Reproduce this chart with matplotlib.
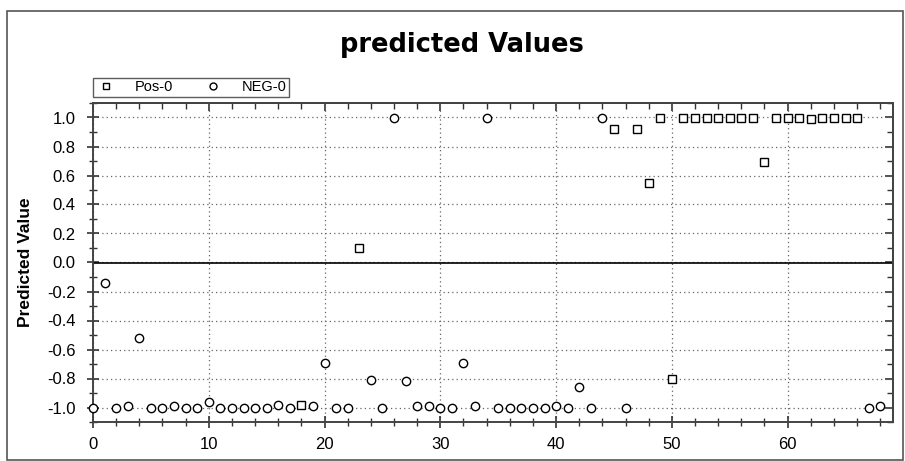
import matplotlib
matplotlib.use('Agg')
import matplotlib.pyplot as plt
import matplotlib.ticker as ticker
from matplotlib.patches import Rectangle

# ─────────────────────────────────────────────
# Data
# ─────────────────────────────────────────────

pos_x = [18, 23, 45, 47, 48, 49, 50, 51, 52, 53, 54, 55, 56, 57, 58,
         59, 60, 61, 62, 63, 64, 65, 66]
pos_y = [-0.98, 0.10, 0.92, 0.92, 0.55, 1.00, -0.80, 1.00, 1.00, 1.00, 1.00, 1.00, 1.00, 1.00, 0.69,
         1.00, 1.00, 1.00, 0.99, 1.00, 1.00, 1.00, 1.00]

neg_x = [0, 1, 2, 3, 4, 5, 6, 7, 8, 9, 10, 11, 12, 13, 14, 15, 16, 17, 19,
         20, 21, 22, 24, 25, 26, 27, 28, 29, 30, 31, 32, 33, 34, 35, 36, 37,
         38, 39, 40, 41, 42, 43, 44, 46, 67, 68]
neg_y = [-1.00, -0.14, -1.00, -0.99, -0.52, -1.00, -1.00, -0.99, -1.00, -1.00,
         -0.96, -1.00, -1.00, -1.00, -1.00, -1.00, -0.98, -1.00, -0.99,
         -0.69, -1.00, -1.00, -0.81, -1.00, 1.00, -0.82, -0.99, -0.99, -1.00,
         -1.00, -0.69, -0.99, 1.00, -1.00, -1.00, -1.00, -1.00, -1.00, -0.99,
         -1.00, -0.86, -1.00, 1.00, -1.00, -1.00, -0.99]

TITLE = 'predicted Values'
YLABEL = 'Predicted Value'

plt.rcParams['font.family'] = ['Liberation Sans', 'DejaVu Sans']

fig = plt.figure(figsize=(9.05, 4.61), dpi=100)
W, H = 905, 461
ax = fig.add_axes([93 / W, 1 - 422 / H, 800 / W, 319 / H])

# outer frame
fig.patches.append(Rectangle((7 / W, 1 / H), 896 / W, 1 - 12 / H,
                             transform=fig.transFigure, fill=False,
                             edgecolor='#555555', linewidth=1.2))

ax.plot(pos_x, pos_y, linestyle='none', marker='s', markersize=6,
        markerfacecolor='white', markeredgecolor='black', markeredgewidth=1.0,
        label='Pos-0', zorder=3, clip_on=False)
ax.plot(neg_x, neg_y, linestyle='none', marker='o', markersize=6,
        markerfacecolor='white', markeredgecolor='black', markeredgewidth=1.0,
        label='NEG-0', zorder=3, clip_on=False)

ax.axhline(0, color='black', linewidth=1.2, zorder=2)

ax.set_xlim(0, 69.1)
ax.set_ylim(-1.1, 1.1)
ax.xaxis.set_major_locator(ticker.MultipleLocator(10))
ax.xaxis.set_minor_locator(ticker.MultipleLocator(2))
ax.yaxis.set_major_locator(ticker.MultipleLocator(0.2))
ax.yaxis.set_minor_locator(ticker.MultipleLocator(0.1))
ax.yaxis.set_major_formatter(ticker.FuncFormatter(lambda v, p: f'{v:.1f}'.replace('-0.0', '0.0')))

ax.tick_params(axis='both', which='major', direction='inout', length=9, width=1.2,
               labelsize=12, colors='#333333', labelcolor='black')
ax.tick_params(axis='both', which='minor', direction='inout', length=6, width=1.0,
               colors='#333333')
ax.tick_params(axis='x', which='major', pad=6)
ax.tick_params(axis='y', which='major', pad=8)
for spine in ax.spines.values():
    spine.set_color('#444444')
    spine.set_linewidth(1.4)

# top / right ticks point inward only
top = ax.secondary_xaxis('top')
right = ax.secondary_yaxis('right')
for sec, ax_name in ((top, 'x'), (right, 'y')):
    if ax_name == 'x':
        sec.xaxis.set_major_locator(ticker.MultipleLocator(10))
        sec.xaxis.set_minor_locator(ticker.MultipleLocator(2))
    else:
        sec.yaxis.set_major_locator(ticker.MultipleLocator(0.2))
        sec.yaxis.set_minor_locator(ticker.MultipleLocator(0.1))
    sec.tick_params(which='major', direction='in', length=6, width=1.2,
                    colors='#333333', labelleft=False, labelright=False,
                    labeltop=False, labelbottom=False)
    sec.tick_params(which='minor', direction='in', length=4, width=1.0,
                    colors='#333333')
    for spine in sec.spines.values():
        spine.set_color('#444444')
        spine.set_linewidth(1.4)

ax.grid(True, which='major', linestyle=(0, (1, 2.5)), color='#666666', linewidth=0.9)

ax.set_ylabel(YLABEL, fontsize=12.5, fontweight='bold', labelpad=10)
fig.text(462 / W, 1 - 45 / H, TITLE, ha='center', va='center',
         fontsize=18.5, fontweight='bold', family=['DejaVu Sans'])

leg = ax.legend(loc='lower left', bbox_to_anchor=(0.0, 1.02), ncol=2,
                frameon=True, fancybox=False, fontsize=10.5, borderpad=0.15,
                handletextpad=1.2, columnspacing=2.0, borderaxespad=0,
                handlelength=1.5)
leg.get_frame().set_edgecolor('#333333')
leg.get_frame().set_linewidth(1.0)
for h in leg.legend_handles:
    h.set_markersize(5)

fig.savefig('out.png', dpi=100)
